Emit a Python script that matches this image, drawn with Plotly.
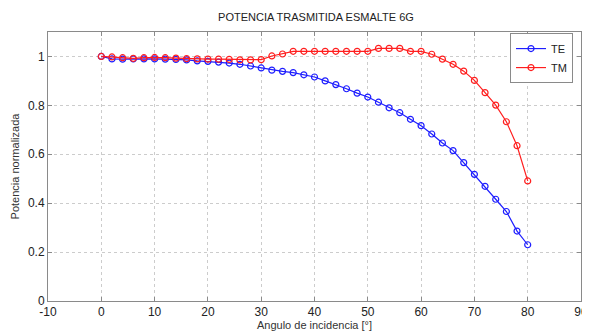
import plotly.graph_objects as go

angles = list(range(0, 82, 2))
te_values = [1.000, 0.990, 0.989, 0.990, 0.990, 0.990, 0.989, 0.988, 0.986, 0.982,
             0.980, 0.977, 0.973, 0.968, 0.961, 0.953, 0.944, 0.939, 0.934, 0.925,
             0.916, 0.900, 0.885, 0.868, 0.850, 0.834, 0.813, 0.790, 0.770, 0.743,
             0.717, 0.683, 0.646, 0.615, 0.566, 0.518, 0.469, 0.416, 0.366, 0.286,
             0.230]
tm_values = [1.000, 0.998, 0.995, 0.992, 0.995, 0.996, 0.995, 0.993, 0.991, 0.990,
             0.989, 0.989, 0.988, 0.986, 0.986, 0.987, 1.002, 1.010, 1.021, 1.021,
             1.021, 1.021, 1.021, 1.021, 1.021, 1.021, 1.033, 1.033, 1.033, 1.021,
             1.021, 1.009, 0.989, 0.968, 0.940, 0.902, 0.852, 0.801, 0.733, 0.635,
             0.491]
x_ticks = list(range(-10, 100, 10))
x_tick_labels = ["-10", "0", "10", "20", "30", "40", "50", "60", "70", "80", "90"]
y_ticks = [0, 0.2, 0.4, 0.6, 0.8, 1]
y_tick_labels = ["0", "0.2", "0.4", "0.6", "0.8", "1"]

FONT = "Liberation Sans, Arial, sans-serif"

fig = go.Figure()
fig.add_trace(go.Scatter(
    x=angles, y=te_values, name="TE", mode="lines+markers",
    line=dict(color="rgb(30,30,255)", width=1.2),
    marker=dict(symbol="circle-open", size=6, color="rgb(30,30,255)", line=dict(width=1.2)),
))
fig.add_trace(go.Scatter(
    x=angles, y=tm_values, name="TM", mode="lines+markers",
    line=dict(color="rgb(255,30,30)", width=1.2),
    marker=dict(symbol="circle-open", size=6, color="rgb(255,30,30)", line=dict(width=1.2)),
))

axis_common = dict(
    showline=True, linecolor="#8a8a8a", linewidth=1, mirror="allticks",
    ticks="inside", ticklen=4, tickcolor="#8a8a8a",
    showgrid=True, gridcolor="#cccccc", griddash="dot", gridwidth=1,
    zeroline=False, automargin=False,
    tickfont=dict(family=FONT, size=12, color="#222"),
)

fig.update_layout(
    width=590, height=333,
    margin=dict(l=40, r=17, t=24, b=40),
    paper_bgcolor="white", plot_bgcolor="white",
    title=dict(text="POTENCIA TRASMITIDA ESMALTE 6G", x=0.522, xanchor="center",
               y=0.973, yanchor="middle",
               font=dict(family=FONT, size=11, color="#222")),
    xaxis=dict(range=[-10, 90], tickvals=x_ticks, ticktext=x_tick_labels,
               title=dict(text="Angulo de incidencia [°]", standoff=2,
                          font=dict(family=FONT, size=11, color="#333")),
               **axis_common),
    yaxis=dict(range=[0, 1.1], tickvals=y_ticks, ticktext=y_tick_labels,
               title=dict(text="Potencia normalizada", standoff=6,
                          font=dict(family=FONT, size=11, color="#333")),
               **axis_common),
    legend=dict(x=0.985, y=0.996, xanchor="right", yanchor="top",
                bgcolor="white", bordercolor="#8a8a8a", borderwidth=1,
                font=dict(family=FONT, size=11, color="#222"),
                itemwidth=30, tracegroupgap=0),
    showlegend=True,
)

fig.write_html("out.html")
